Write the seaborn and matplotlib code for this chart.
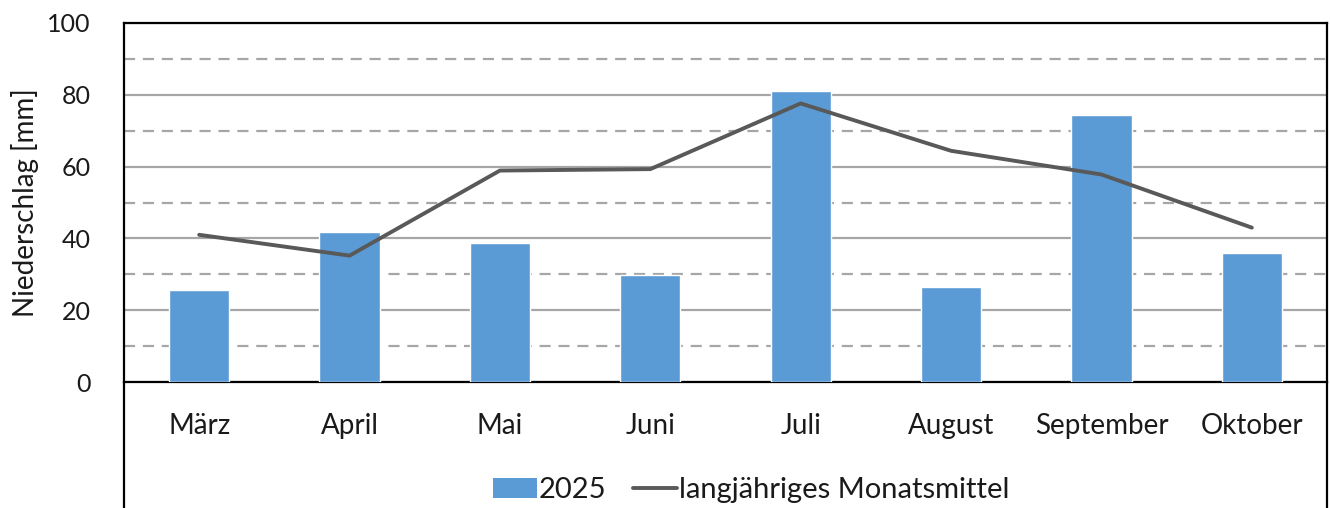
import numpy as np
import matplotlib
matplotlib.use('Agg')
import matplotlib.pyplot as plt
import seaborn as sns
from matplotlib.patches import Patch
from matplotlib.lines import Line2D
from matplotlib.ticker import MultipleLocator

# data
months = ['März', 'April', 'Mai', 'Juni', 'Juli', 'August', 'September', 'Oktober']
rain_2025 = [25.5, 41.7, 38.8, 29.8, 81.0, 26.5, 74.5, 36.0]
long_term_mean = [41.0, 35.2, 58.9, 59.3, 77.6, 64.4, 57.8, 43.0]

bar_color = '#5b9bd5'
line_color = '#595959'
grid_color = '#a6a6a6'

sns.set_theme(style='white')
plt.rcParams['font.family'] = ['Lato', 'DejaVu Sans']
plt.rcParams['text.color'] = '#1a1a1a'

fig = plt.figure(figsize=(13.3, 5.08), dpi=100)
ax = fig.add_axes([124/1330, 126/508, 1203/1330, 359/508])

sns.barplot(x=months, y=rain_2025, color=bar_color, width=0.4, saturation=1,
            ax=ax, zorder=3)
sns.lineplot(x=np.arange(len(months)), y=long_term_mean, color=line_color,
             linewidth=2.8, ax=ax, zorder=4)

ax.set_xlim(-0.5, len(months) - 0.5)
ax.set_ylim(0, 100)
ax.yaxis.set_major_locator(MultipleLocator(20))
ax.yaxis.set_minor_locator(MultipleLocator(10))
ax.grid(axis='y', which='major', color=grid_color, linewidth=1.6, linestyle='-', zorder=1)
ax.grid(axis='y', which='minor', color=grid_color, linewidth=1.6, linestyle=(0, (5, 3.5)), zorder=1)
ax.set_axisbelow(True)

ax.tick_params(axis='y', which='both', length=0, pad=24, labelsize=18, labelcolor='#1a1a1a')
ax.tick_params(axis='x', length=0, pad=22, labelsize=20, labelcolor='#1a1a1a')
ax.set_xlabel('')
ax.set_ylabel('Niederschlag [mm]', fontsize=20, labelpad=6, color='#1a1a1a')

for side in ['top', 'left', 'right', 'bottom']:
    ax.spines[side].set_visible(True)
    ax.spines[side].set_color('black')
    ax.spines[side].set_linewidth(1.6)

# outer chart frame continues below the plot area
for xpos in [0, 1]:
    ax.plot([xpos, xpos], [0, -0.4], transform=ax.transAxes, color='black',
            linewidth=1.6, clip_on=False, zorder=5)

handles = [Patch(facecolor=bar_color, edgecolor='none'),
           Line2D([0], [0], color=line_color, linewidth=2.8)]
fig.legend(handles, ['2025', 'langjähriges Monatsmittel'], loc='center',
           bbox_to_anchor=(751/1330, 18/508), ncol=2, frameon=False, fontsize=21,
           handlelength=1.5, handleheight=0.7, handletextpad=0.08, columnspacing=0.9,
           borderpad=0)

fig.savefig('out.png', dpi=100)
